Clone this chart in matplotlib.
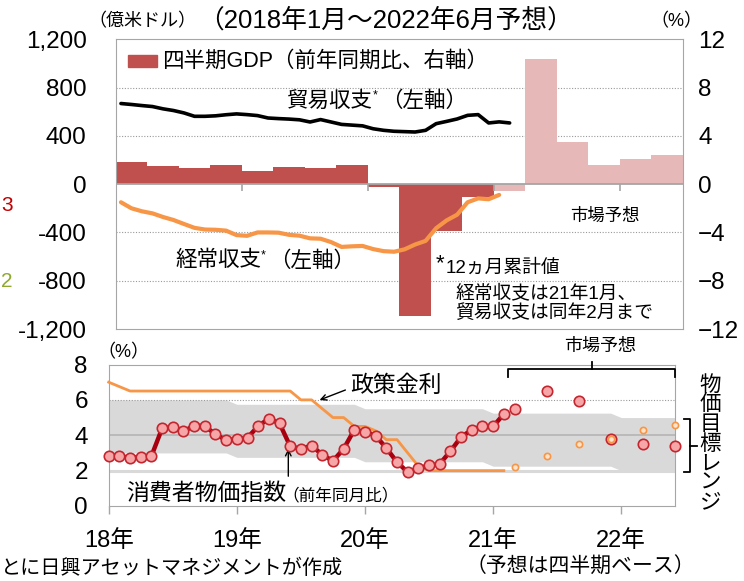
import numpy as np
import matplotlib
matplotlib.use("Agg")
import matplotlib.pyplot as plt
from matplotlib.lines import Line2D
from matplotlib.patches import Rectangle

plt.rcParams['font.family'] = ['Liberation Sans', 'Noto Sans CJK JP']

# quarterly GDP (yoy %), actual then market forecast
gdp_q = [1.8, 1.5, 1.3, 1.6, 1.1, 1.4, 1.3, 1.6, -0.2, -10.9, -3.9, -1.1]
gdp_q_fc = [-0.6, 10.4, 3.5, 1.6, 2.1, 2.4]

# 12-month cumulative, 100m USD, monthly from Jan 2018
trade_bal = [668, 660, 651, 643, 624, 610, 590, 562, 562, 566, 575, 582,
             576, 568, 548, 543, 539, 533, 515, 535, 515, 495, 489, 483,
             459, 446, 438, 435, 432, 446, 501, 520, 540, 570, 576, 507,
             516, 507]
current_acc = [-150, -200, -225, -242, -272, -297, -330, -362, -376, -378, -385, -422,
               -428, -400, -400, -402, -420, -427, -449, -452, -480, -520, -515, -512,
               -538, -555, -560, -540, -500, -470, -365, -300, -253, -150, -118, -125,
               -89]

# CPI and policy rate (%), monthly from Jan 2018
cpi = [2.84, 2.84, 2.72, 2.78, 2.82, 4.39, 4.46, 4.22, 4.54, 4.52, 4.05, 3.73,
       3.78, 3.86, 4.52, 4.94, 4.67, 3.37, 3.23, 3.42, 2.89, 2.55, 3.23, 4.31,
       4.20, 3.97, 3.27, 2.48, 1.91, 2.14, 2.29, 2.38, 3.10, 3.90, 4.31, 4.50,
       4.50, 5.20]
policy_rate = [7.0, 6.75, 6.5, 6.5, 6.5, 6.5, 6.5, 6.5, 6.5, 6.5, 6.5, 6.5,
               6.5, 6.5, 6.5, 6.5, 6.5, 6.5, 6.0, 6.0, 5.5, 5.0, 5.0, 4.5,
               4.5, 4.25, 3.75, 3.75, 3.0, 2.25, 2.0, 2.0, 2.0, 2.0, 2.0, 2.0,
               2.0, 2.0]

# market forecasts (quarterly)
fc_months = [38, 41, 44, 47, 50, 53]
cpi_fc = [5.48, 6.5, 5.96, 3.76, 3.5, 3.37]
rate_fc = [2.2, 2.8, 3.5, 3.8, 4.3, 4.6]

# inflation target range per year
target_lo = [3.0, 2.75, 2.5, 2.25, 2.0]
target_hi = [6.0, 5.75, 5.5, 5.25, 5.0]

year_labels = ['18年', '19年', '20年', '21年', '22年']
left_ticks = [-1200, -800, -400, 0, 400, 800, 1200]
left_ticklabels = ['-1,200', '-800', '-400', '0', '400', '800', '1,200']
right_ticks = [-12, -8, -4, 0, 4, 8, 12]
bottom_ticks = [0, 2, 4, 6, 8]

W, H = 744, 581
RED = '#C0504D'
PINK = '#E6B9B8'
ORANGE = '#F79646'
GRAY = '#A6A6A6'

fig = plt.figure(figsize=(W / 100, H / 100), dpi=100)


def ftext(x, y, s, **kw):
    kw.setdefault('va', 'center')
    return fig.text(x / W, 1 - y / H, s, **kw)


def fline(xs, ys, **kw):
    fig.add_artist(Line2D([x / W for x in xs], [1 - y / H for y in ys],
                          transform=fig.transFigure, **kw))


# ---------- top panel ----------
ax = fig.add_axes([115.7 / W, 1 - 329 / H, (683 - 115.7) / W, (329 - 39.3) / H])
q_all = gdp_q + gdp_q_fc
qx = np.arange(len(q_all)) * 3 + 1.5
bar_colors = [RED] * len(gdp_q) + [PINK] * len(gdp_q_fc)
ax.bar(qx, q_all, width=3, color=bar_colors, lw=0, zorder=2)
for v in [-8, -4, 4, 8]:
    ax.axhline(v, color='#9A9A9A', lw=0.8, ls=(0, (1, 1.5)), zorder=1)
ax.axhline(0, color=GRAY, lw=1.3, zorder=3)
ax.vlines([12, 24, 36, 48], -0.6, 0, color=GRAY, lw=1.2, zorder=3)
ax.set_xlim(0, 54)
ax.set_ylim(-12, 12)
ax.set_xticks([])
for s in ax.spines.values():
    s.set_color(GRAY)

ax2 = ax.twinx()
ax2.plot(np.arange(len(trade_bal)) + 0.5, trade_bal, color='black', lw=2.6,
         solid_capstyle='round')
ax2.plot(np.arange(len(current_acc)) + 0.5, current_acc, color=ORANGE, lw=3,
         solid_capstyle='round')
ax2.set_ylim(-1200, 1200)
ax2.set_xlim(0, 54)
for s in ax2.spines.values():
    s.set_visible(False)

ax.yaxis.tick_right()
ax.set_yticks(right_ticks)
ax.tick_params(axis='y', length=0, labelsize=17.5, pad=11)
ax2.yaxis.tick_left()
ax2.set_yticks(left_ticks)
ax2.set_yticklabels(left_ticklabels)
ax2.tick_params(axis='y', length=0, labelsize=17.5, pad=21)

# legend (manual)
fig.add_artist(Rectangle((128 / W, 1 - 67 / H), 29 / W, 12 / H, color=RED,
                         transform=fig.transFigure))
ftext(162, 61, '四半期GDP（前年同期比、右軸）', fontsize=15.5)

ftext(287, 101, '貿易収支', fontsize=15.5)
ftext(373, 95, '*', fontsize=9)
ftext(381, 101, '（左軸）', fontsize=15.5)
ftext(175, 261, '経常収支', fontsize=15.5)
ftext(261, 255, '*', fontsize=9)
ftext(269, 261, '（左軸）', fontsize=15.5)
ftext(570, 216, '市場予想', fontsize=12.5)
ftext(436, 264, '*', fontsize=16)
ftext(446, 268, '12ヵ月累計値', fontsize=13.5)
ftext(455, 293, '経常収支は21年1月、', fontsize=13.5)
ftext(455, 313, '貿易収支は同年2月まで', fontsize=13.5)

ftext(88, 22, '（億米ドル）', fontsize=13)
ftext(198, 20, '（2018年1月～2022年6月予想）', fontsize=18.5)
ftext(650, 22, '（%）', fontsize=13)

# cropped fragments at the left edge
ftext(1, 205, '3', fontsize=15, color='#C00000')
ftext(1, 282, '2', fontsize=15, color='#8DAA2E')

# ---------- bottom panel ----------
axb = fig.add_axes([108.7 / W, 1 - 506 / H, 566 / W, 141.5 / H])
months = np.arange(54)
lo = np.repeat(target_lo, 12)[:54]
hi = np.repeat(target_hi, 12)[:54]
axb.fill_between(months, lo, hi, color='#D9D9D9', lw=0, zorder=0)
axb.axhline(6, color='#9A9A9A', lw=0.8, ls=(0, (1, 1.5)), zorder=1)
axb.axhline(4, color='#B4B4B4', lw=1.2, zorder=1)
axb.axhline(2, color='#D9D9D9', lw=2.2, zorder=1)
axb.plot(np.arange(len(policy_rate)), policy_rate, color=ORANGE, lw=2, zorder=3,
         clip_on=False)
axb.plot(np.arange(len(cpi)), cpi, color='#A8000F', lw=3.2, marker='o', ms=7.5,
         mfc='#F7A6A8', mec='#C3262E', mew=1.2, zorder=4, clip_on=False)
axb.plot(fc_months, cpi_fc, ls='none', marker='o', ms=7.5,
         mfc='#F7A6A8', mec='#C3262E', mew=1.2, zorder=4, clip_on=False)
axb.plot(fc_months, rate_fc, ls='none', marker='o', ms=4.5,
         mfc='#FDE3CC', mec=ORANGE, mew=1.2, zorder=5, clip_on=False)
axb.set_xlim(0, 53)
axb.set_ylim(0, 8)
axb.set_yticks(bottom_ticks)
axb.set_xticks([0, 12, 24, 36, 48])
axb.set_xticklabels(year_labels)
axb.tick_params(axis='y', length=0, labelsize=17.5, pad=15)
axb.tick_params(axis='x', length=6, width=1, color=GRAY, labelsize=17, pad=11)
for s in axb.spines.values():
    s.set_color(GRAY)

ftext(97, 353, '（%）', fontsize=13)
ftext(350, 385, '政策金利', fontsize=16.5)
axb.annotate('', xy=(317, H - 401), xycoords='figure pixels',
             xytext=(348, H - 389), textcoords='figure pixels',
             arrowprops=dict(arrowstyle='->', color='black', lw=1))
ftext(126, 493, '消費者物価指数', fontsize=16.5)
ftext(282, 495, '（前年同月比）', fontsize=12)
axb.annotate('', xy=(288.3, H - 446), xycoords='figure pixels',
             xytext=(288.3, H - 479), textcoords='figure pixels',
             arrowprops=dict(arrowstyle='->', color='black', lw=1))

# forecast bracket
ftext(600, 346, '市場予想', fontsize=13, ha='center')
fline([508, 508, 674.7, 674.7], [376.7, 369.3, 369.3, 376.7], color='black', lw=1.3)
fline([592, 592], [369.3, 361.7], color='black', lw=1.3)

# target range brace and vertical label
fline([683.7, 690.3, 690.3, 683.7], [419.3, 419.3, 471.7, 471.7], color='black', lw=1.3)
fline([690.3, 697], [446, 446], color='black', lw=1.3)
for i, ch in enumerate('物価目標レンジ'):
    ftext(710.3, 385 + i * 19.7, ch, fontsize=15.5, ha='center')

ftext(580, 567, '（予想は四半期ベース）', fontsize=15, ha='center')
ftext(1, 568, 'とに日興アセットマネジメントが作成', fontsize=14.5)

fig.savefig('out.png', dpi=100)
